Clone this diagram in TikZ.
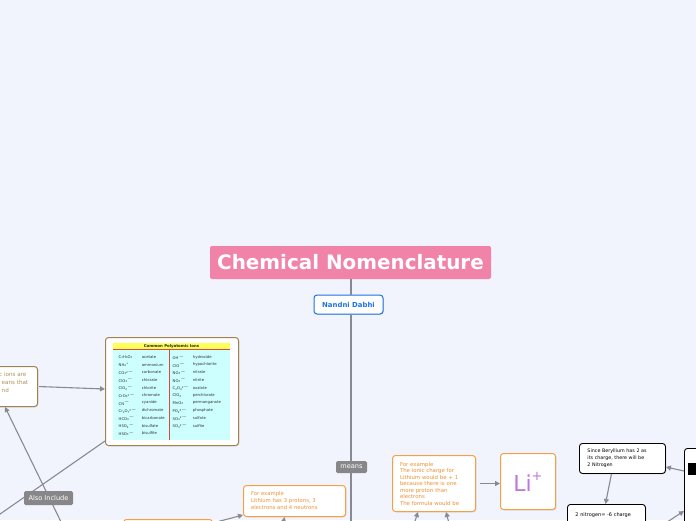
\documentclass[tikz,border=0pt]{standalone}
\usepackage{fontspec}
\setmainfont{DejaVu Sans}
\usetikzlibrary{arrows.meta,shadows}
\definecolor{bgc}{RGB}{242,244,253}
\definecolor{titlec}{RGB}{242,131,168}
\definecolor{linec}{RGB}{135,138,148}
\definecolor{orangec}{RGB}{245,160,70}
\definecolor{orangetxt}{RGB}{240,145,50}
\definecolor{brownc}{RGB}{160,130,80}
\definecolor{browntxt}{RGB}{175,145,85}
\definecolor{labelc}{RGB}{135,135,138}
\definecolor{bluec}{RGB}{25,115,230}
\definecolor{licol}{RGB}{190,120,220}
\definecolor{yellowc}{RGB}{255,255,90}
\definecolor{cyanc}{RGB}{205,255,255}
\definecolor{redc}{RGB}{220,70,60}
\newcommand{\dn}[1]{\raisebox{-0.25ex}{\fontsize{2.7}{3}\selectfont #1}}
\newcommand{\up}[1]{\raisebox{0.55ex}{\fontsize{2.7}{3}\selectfont #1}}
\tikzset{
  shad/.style={drop shadow={shadow xshift=0.8pt,shadow yshift=-0.8pt,opacity=0.25}},
  conn/.style={draw=linec,line width=1.1pt},
  arr/.style={conn,-{Triangle[length=5pt,width=5pt]}},
  obox/.style={draw=orangec,fill=white,line width=1pt,rounded corners=3pt,shad,inner sep=0pt},
  kbox/.style={draw=black,fill=white,line width=0.9pt,rounded corners=3pt,shad,inner sep=0pt},
  pbox/.style={draw=brownc,fill=white,line width=1pt,rounded corners=3pt,shad,inner sep=0pt},
  lab/.style={fill=labelc,rounded corners=1.5pt,text=white,inner sep=0pt,font=\fontsize{6.6}{7}\selectfont},
  tabt/.style={anchor=west,inner sep=0pt,text=black!80,font=\fontsize{3.8}{4}\selectfont}
}
\begin{document}
\begin{tikzpicture}[x=1pt,y=-1pt]
\fill[bgc] (0,0) rectangle (696,520);
\useasboundingbox (0,0) rectangle (696,520);

% title and root
\node[fill=titlec,rounded corners=2pt,minimum width=281pt,minimum height=33pt,inner sep=0pt,text=white,font=\fontsize{19.9}{21}\selectfont\bfseries] (title) at (350.5,262.5) {Chemical Nomenclature};
\node[draw=bluec,fill=white,line width=1pt,rounded corners=3pt,shad,minimum width=69pt,minimum height=19pt,inner sep=0pt,text=bluec,font=\fontsize{6.9}{7}\selectfont\bfseries] (nandni) at (348.5,304.5) {Nandni Dabhi};
\coordinate (bot) at (351,530);
\draw[conn] (title.south -| bot) -- (nandni.north -| bot);
\draw[conn] (nandni.south -| bot) -- (bot);
\node[lab,minimum width=31pt,minimum height=12pt] (means) at (351.5,467) {means};

% ionic charge box and Li+
\node[obox,anchor=north west,minimum width=83pt,minimum height=56pt,text width=68pt,inner xsep=7.5pt,align=left,text=orangetxt,font=\fontsize{5.4}{6.5}\selectfont] (ionic) at (392,455) {For example\\The ionic charge for\\Lithium would be + 1\\because there is one\\more proton than\\electrons\\The formula would be};
\node[obox,anchor=north west,minimum width=55pt,minimum height=56pt,text=licol,font=\fontsize{22}{22}\selectfont] (li) at (500,453) {Li\raisebox{0.5em}{\fontsize{13}{13}\selectfont +}};
\draw[arr,shorten <=4pt] (ionic.east) -- (ionic.east -| li.west);
\coordinate (ia) at (413,527);
\coordinate (ib) at (450,527);
\draw[arr] (ia) -- (ionic.south -| 418,0);
\draw[arr] (ib) -- (ionic.south -| 446,0);

% lithium protons box
\node[obox,anchor=north west,minimum width=102pt,minimum height=31pt,text width=87pt,inner xsep=7.5pt,align=left,text=orangetxt,font=\fontsize{5.3}{7}\selectfont] (lith) at (243,485) {For example\\Lithium has 3 protons, 3\\electrons and 4 neutrons};
\coordinate (la) at (205,525);
\coordinate (lb) at (282,530);
\draw[arr] (la) -- ([yshift=2pt]lith.south west);
\draw[arr] (lb) -- ([xshift=-10pt]lith.south);

% partly visible orange box at bottom
\node[obox,anchor=north west,minimum width=89pt,minimum height=20pt] (bottombox) at (123,519) {};

% polyatomic ions table box
\node[pbox,anchor=north west,minimum width=133pt,minimum height=108pt] (poly) at (105,337) {};
\fill[cyanc] (113,350) rectangle (230,439.5);
\fill[yellowc] (113,342.5) rectangle (230,349.5);
\draw[redc,line width=0.7pt] (113,349.8) -- (230,349.8);
\draw[redc,line width=0.7pt] (169.5,350) -- (169.5,439.5);
\node[inner sep=0pt,font=\fontsize{3.9}{4}\selectfont\bfseries,text=black!85] (thead) at (171.5,346) {Common Polyatomic Ions};
\foreach \f/\n [count=\i from 0] in {{C\dn{2}H\dn{3}O\dn{2}}/acetate,{NH\dn{4}\up{+}}/ammonium,{CO\dn{3}\up{2$-$}}/carbonate,{ClO\dn{3}\up{$-$}}/chlorate,{ClO\dn{2}\up{$-$}}/chlorite,{CrO\dn{4}\up{2$-$}}/chromate,{CN\up{$-$}}/cyanide,{Cr\dn{2}O\dn{7}\up{2$-$}}/dichromate,{HCO\dn{3}\up{$-$}}/bicarbonate,{HSO\dn{4}\up{$-$}}/bisulfate,{HSO\dn{3}\up{$-$}}/bisulfite}{
  \node[tabt] (lf\i) at (118.5,357.3+7.6*\i) {\f};
  \node[tabt] (ln\i) at (141.7,357.3+7.6*\i) {\n};
}
\foreach \f/\n [count=\i from 0] in {{OH\up{$-$}}/hydroxide,{ClO\up{$-$}}/hypochlorite,{NO\dn{3}\up{$-$}}/nitrate,{NO\dn{2}\up{$-$}}/nitrite,{C\dn{2}O\dn{4}\up{2$-$}}/oxalate,{ClO\dn{4}}/perchlorate,{MnO\dn{4}}/permanganate,{PO\dn{4}\up{3$-$}}/phosphate,{SO\dn{4}\up{2$-$}}/sulfate,{SO\dn{3}\up{2$-$}}/sulfite}{
  \node[tabt] (rf\i) at (172.5,357.3+7.6*\i) {\f};
  \node[tabt] (rn\i) at (192.7,357.3+7.6*\i) {\n};
}

% left box (cut off)
\node[pbox,draw=brownc,anchor=north east,minimum width=80pt,minimum height=40pt] (lbox) at (38,366) {};
\node[anchor=north west,inner sep=0pt,align=left,text=browntxt,font=\fontsize{5.6}{7.6}\selectfont] (ltxt) at (-1,372.5) {c ions are\\\hspace*{2.5pt}eans that\\\hspace*{2.5pt}nd};
\draw[arr,shorten <=1pt] (lbox.east) -- (poly.west |- 0,389);
\coordinate (offl) at (-20,528);
\draw[conn] ([yshift=5pt]poly.south west) -- (offl);
\coordinate (offb) at (64,528);
\coordinate (lx) at (5,0);
\draw[arr] (offb) -- (lbox.south -| lx);
\node[lab,minimum width=49pt,minimum height=14pt] (also) at (48.5,498) {Also Include};

% right side
\node[kbox,anchor=north west,minimum width=86pt,minimum height=30pt,text width=70pt,inner xsep=8pt,align=left,font=\fontsize{4.8}{6.8}\selectfont] (bery) at (579,443) {Since Beryllium has 2 as\\its charge, there will be\\2 Nitrogen};
\node[kbox,anchor=north west,minimum width=78pt,minimum height=21pt,text width=62pt,inner xsep=8pt,align=left,font=\fontsize{5}{6}\selectfont] (nitro) at (567,504) {2 nitrogen= -6 charge};
\node[kbox,anchor=north west,minimum width=60pt,minimum height=100pt] (big) at (684,448) {};
\fill[black] (687.5,463) rectangle (700,475);
\draw[arr] ([yshift=-23pt]big.north west) -- ([yshift=-24pt]bery.north east);
\draw[arr] ([xshift=-11pt]bery.south) -- ([xshift=-1pt]nitro.north);
\coordinate (rb) at (658,528);
\draw[arr] (rb) -- ([yshift=-63pt]big.north west);
\end{tikzpicture}
\end{document}
